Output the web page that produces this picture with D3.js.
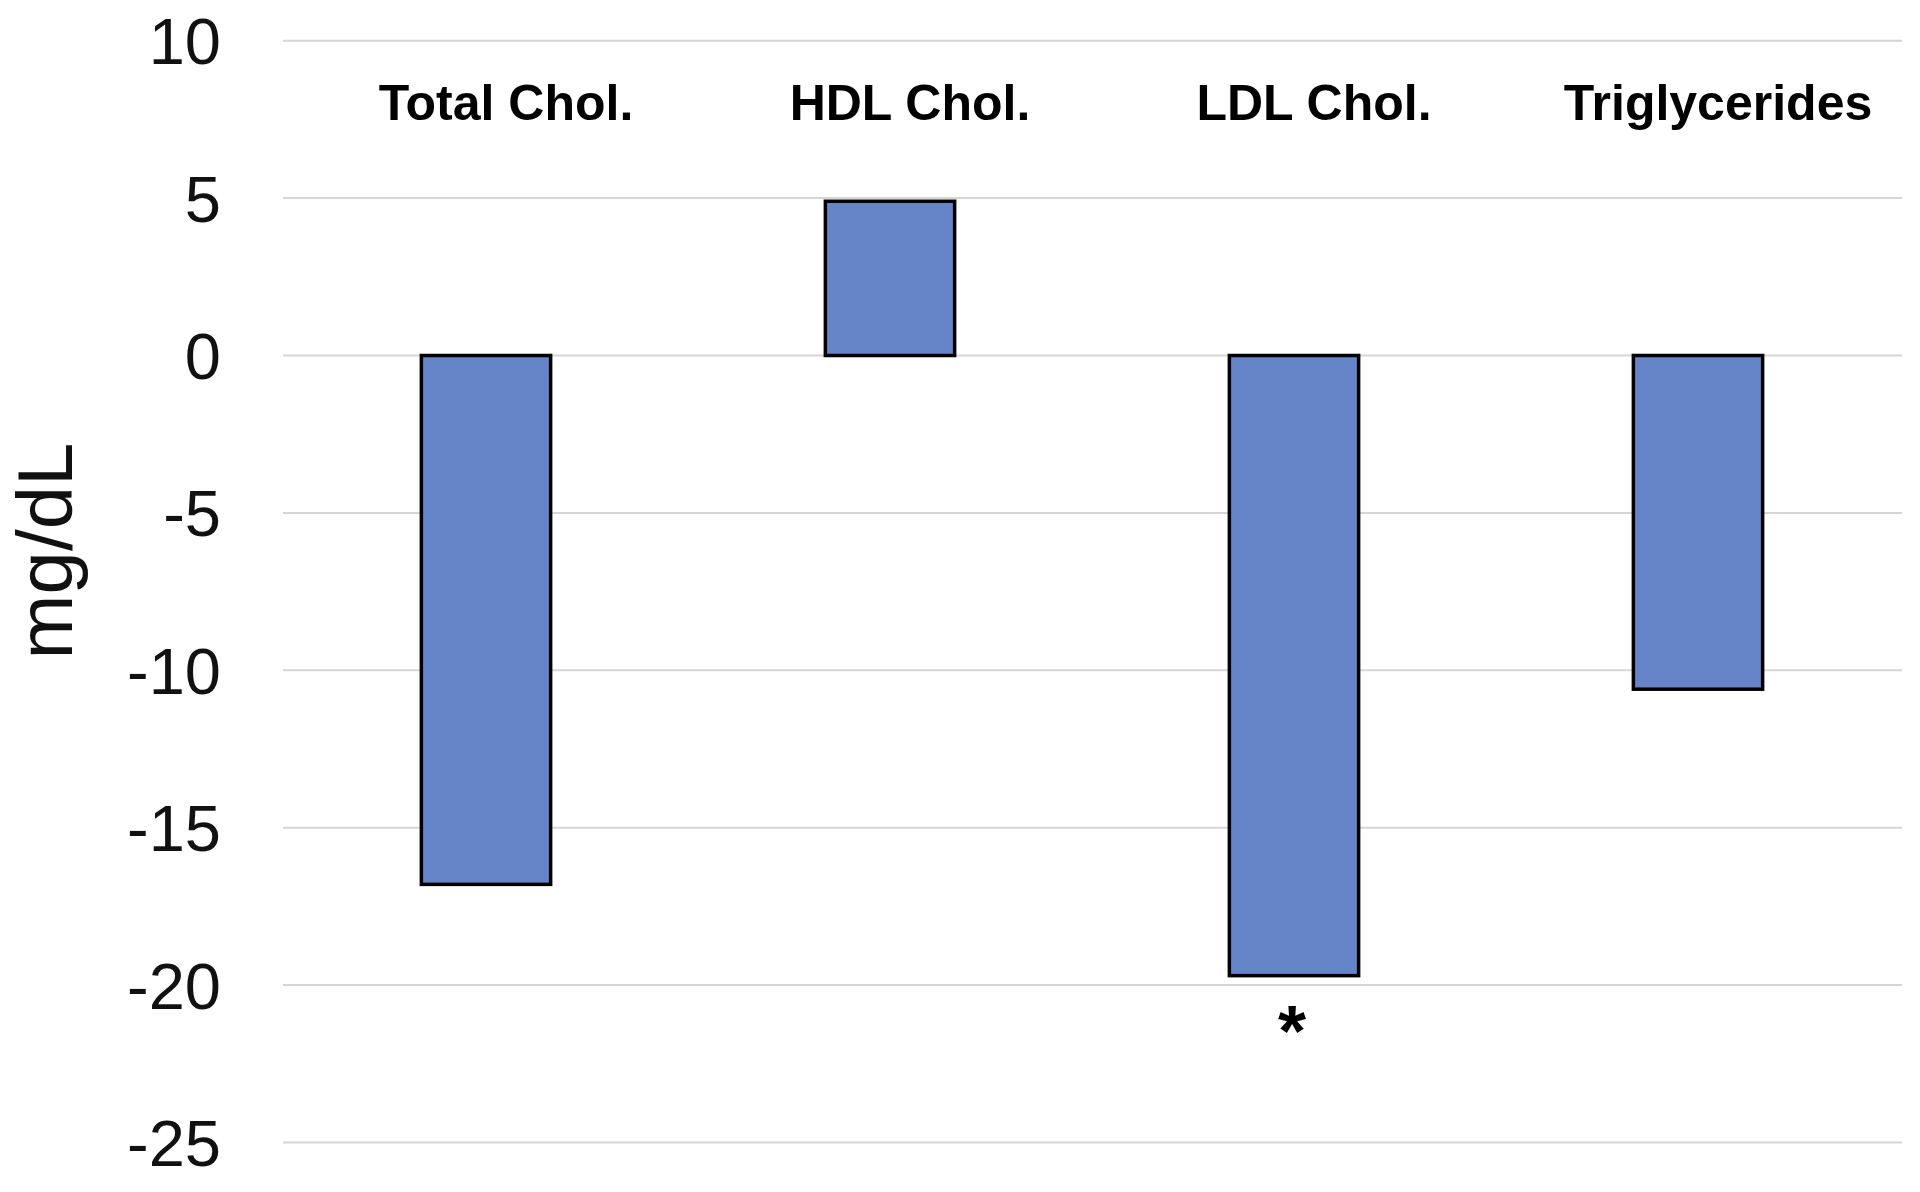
<!DOCTYPE html>
<html>
<head>
<meta charset="utf-8">
<script src="https://cdn.jsdelivr.net/npm/d3@7"></script>
<style>
  body { margin: 0; background: #fff; }
  svg { display: block; font-family: "Liberation Sans", Arial, sans-serif; }
</style>
</head>
<body>
<svg width="1920" height="1192"></svg>
<script>
const categories = ["Total Chol.", "HDL Chol.", "LDL Chol.", "Triglycerides"];
const values = [-16.8, 4.9, -19.7, -10.6];
const marks = ["", "", "*", ""];
const yTicks = [10, 5, 0, -5, -10, -15, -20, -25];

const svg = d3.select("svg");

const x = d3.scaleBand()
  .domain(categories)
  .range([284, 1900])
  .paddingInner(0.68)
  .paddingOuter(0.34);

const y = d3.scaleLinear().domain([-25, 10]).range([1142.5, 40.7]);

// gridlines
svg.append("g")
  .selectAll("line")
  .data(yTicks)
  .enter().append("line")
  .attr("x1", 283)
  .attr("x2", 1902)
  .attr("y1", d => y(d))
  .attr("y2", d => y(d))
  .attr("stroke", "#d6d6d6")
  .attr("stroke-width", 2);

// y tick labels
svg.append("g")
  .selectAll("text")
  .data(yTicks)
  .enter().append("text")
  .attr("x", 221)
  .attr("y", d => y(d))
  .attr("dy", "0.36em")
  .attr("text-anchor", "end")
  .style("font-size", "65px")
  .attr("fill", "#111")
  .text(d => d);

// y axis title
svg.append("text")
  .attr("transform", "translate(72,551) rotate(-90)")
  .attr("text-anchor", "middle")
  .style("font-size", "78px")
  .attr("fill", "#111")
  .text("mg/dL");

// bars
svg.append("g")
  .selectAll("rect")
  .data(categories)
  .enter().append("rect")
  .attr("x", d => x(d))
  .attr("width", x.bandwidth())
  .attr("y", (d, i) => y(Math.max(0, values[i])))
  .attr("height", (d, i) => Math.abs(y(values[i]) - y(0)))
  .attr("fill", "#6685c8")
  .attr("stroke", "#000")
  .attr("stroke-width", 3.5);

// category labels at top
svg.append("g")
  .selectAll("text")
  .data(categories)
  .enter().append("text")
  .attr("x", d => x(d) + x.bandwidth() / 2 + 20)
  .attr("y", 120)
  .attr("text-anchor", "middle")
  .style("font-size", "50px")
  .style("font-weight", "bold")
  .attr("fill", "#000")
  .text(d => d);

// significance marks
svg.append("g")
  .selectAll("text")
  .data(categories)
  .enter().append("text")
  .attr("x", d => x(d) + x.bandwidth() / 2 - 2)
  .attr("y", (d, i) => y(values[i]) + 80)
  .attr("text-anchor", "middle")
  .style("font-size", "72px")
  .style("font-weight", "bold")
  .attr("fill", "#000")
  .text((d, i) => marks[i]);
</script>
</body>
</html>
